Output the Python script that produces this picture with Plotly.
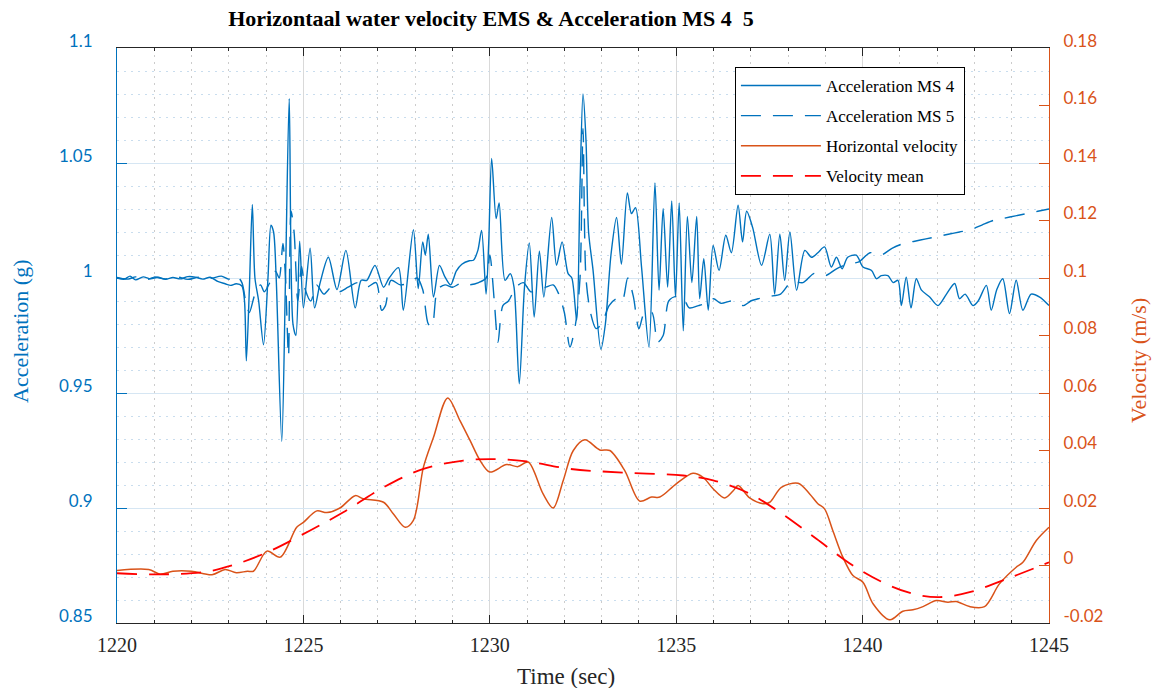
import plotly.graph_objects as go

# ---------------- data ----------------
t_ms4 = [1220.0, 1220.2, 1220.35, 1220.5, 1220.7, 1220.9, 1221.1, 1221.3, 1221.5, 1221.7,
         1221.9, 1222.1, 1222.3, 1222.5, 1222.7, 1222.9, 1223.05, 1223.2, 1223.35, 1223.42,
         1223.47, 1223.55, 1223.63, 1223.7, 1223.8, 1223.93, 1224.05, 1224.13, 1224.2, 1224.27,
         1224.42, 1224.52, 1224.62, 1224.72, 1224.8, 1224.9, 1225.0, 1225.18, 1225.3, 1225.45,
         1225.67, 1225.9, 1226.14, 1226.39, 1226.55, 1226.7, 1226.92, 1227.15, 1227.3, 1227.55,
         1227.68, 1227.95, 1228.08, 1228.2, 1228.27, 1228.35, 1228.49, 1228.65, 1228.8, 1228.95,
         1229.1, 1229.25, 1229.45, 1229.56, 1229.68, 1229.78, 1229.9, 1229.97, 1230.05, 1230.17,
         1230.25, 1230.41, 1230.55, 1230.65, 1230.79, 1230.93, 1231.06, 1231.19, 1231.33, 1231.45,
         1231.66, 1231.79, 1231.94, 1232.1, 1232.2, 1232.33, 1232.42, 1232.5, 1232.58, 1232.65,
         1232.77, 1232.98, 1233.1, 1233.25, 1233.4, 1233.53, 1233.69, 1233.8, 1233.91, 1234.07,
         1234.27, 1234.43, 1234.54, 1234.65, 1234.77, 1234.88, 1234.98, 1235.08, 1235.19, 1235.3,
         1235.42, 1235.55, 1235.63, 1235.74, 1235.86, 1235.99, 1236.15, 1236.33, 1236.48, 1236.66,
         1236.78, 1236.89, 1237.05, 1237.29, 1237.51, 1237.64, 1237.78, 1237.91, 1238.05, 1238.23,
         1238.45, 1238.63, 1238.8, 1238.98, 1239.16, 1239.3, 1239.45, 1239.6, 1239.83, 1240.01,
         1240.24, 1240.37, 1240.5, 1240.68, 1240.82, 1240.95, 1241.04, 1241.17, 1241.3, 1241.44,
         1241.58, 1241.8, 1242.02, 1242.25, 1242.47, 1242.6, 1242.75, 1242.96, 1243.1, 1243.32,
         1243.45, 1243.6, 1243.76, 1243.94, 1244.12, 1244.3, 1244.52, 1244.75, 1245.0]
a_ms4 = [1.000, 0.9995, 1.0008, 0.9992, 1.0005, 0.9997, 1.0003, 0.9994, 1.0002, 0.9996,
         1.0006, 1.0004, 0.9995, 1.0003, 0.9985, 0.9975, 0.9968, 0.9975, 0.9965, 0.990,
         0.964, 0.995, 1.032, 1.000, 0.990, 0.971, 1.000, 1.023, 1.020, 1.000,
         0.929, 1.000, 1.078, 0.980, 0.975, 1.016, 0.987, 1.013, 0.987, 0.998,
         1.009, 0.995, 1.012, 0.987, 0.999, 0.999, 1.0055, 0.996, 1.000, 1.0045,
         0.986, 1.021, 0.9954, 1.0157, 1.010, 1.019, 0.9917, 1.0055, 1.0004, 0.997,
         1.003, 1.006, 1.0075, 1.0077, 1.012, 1.0207, 0.993, 1.015, 1.052, 1.0258,
         1.0326, 0.999, 1.0019, 0.996, 0.954, 0.996, 1.0152, 0.983, 1.0117, 0.9917,
         1.0263, 1.0055, 1.0157, 1.0019, 1.000, 0.9816, 1.040, 1.080, 1.060, 1.020,
         1.0033, 0.969, 0.980, 1.010, 1.0263, 1.006, 1.037, 1.028, 1.0306, 1.0048,
         0.970, 1.0413, 0.9947, 1.0302, 0.996, 1.0335, 0.9917, 1.0326, 0.977, 1.0268,
         0.998, 1.0268, 0.991, 1.0084, 0.986, 1.0142, 1.0033, 1.0186, 1.011, 1.0316,
         1.0157, 1.029, 1.022, 1.0055, 1.019, 0.993, 1.019, 0.999, 1.020, 0.9947,
         1.012, 1.009, 1.011, 1.0135, 1.0048, 1.009, 1.004, 1.009, 1.0099, 1.0048,
         1.0033, 0.9997, 1.001, 1.001, 0.998, 0.999, 0.988, 1.0004, 0.987, 0.9997,
         0.9947, 0.9917, 0.988, 0.993, 0.9976, 0.991, 0.993, 0.988, 0.990, 0.9968,
         0.986, 0.995, 0.9997, 0.9845, 0.999, 0.986, 0.993, 0.9917, 0.988]

t_ms5 = [1220.0, 1220.3, 1220.5, 1220.8, 1221.0, 1221.3, 1221.6, 1221.9, 1222.2, 1222.5,
         1222.8, 1223.0, 1223.2, 1223.35, 1223.45, 1223.55, 1223.7, 1223.85, 1223.95, 1224.1,
         1224.25, 1224.35, 1224.45, 1224.52, 1224.6, 1224.67, 1224.75, 1224.85, 1224.95, 1225.05,
         1225.2, 1225.35, 1225.55, 1225.75, 1225.95, 1226.2, 1226.45, 1226.7, 1226.95, 1227.1,
         1227.2, 1227.35, 1227.6, 1227.85, 1228.05, 1228.2, 1228.35, 1228.45, 1228.6, 1228.8,
         1229.0, 1229.2, 1229.45, 1229.7, 1229.9, 1230.0, 1230.12, 1230.22, 1230.35, 1230.5,
         1230.7, 1230.9, 1231.1, 1231.3, 1231.5, 1231.7, 1231.85, 1232.0, 1232.15, 1232.3,
         1232.42, 1232.5, 1232.58, 1232.7, 1232.85, 1233.0, 1233.2, 1233.4, 1233.55, 1233.7,
         1233.85, 1234.0, 1234.15, 1234.35, 1234.5, 1234.65, 1234.8, 1235.0, 1235.2, 1235.35,
         1235.6, 1235.8, 1236.0, 1236.2, 1236.5, 1236.8, 1237.0, 1237.2, 1237.5, 1237.8,
         1238.1, 1238.4, 1238.7, 1239.0, 1239.3, 1239.6, 1239.9, 1240.2, 1240.5, 1240.8,
         1241.1, 1241.4, 1241.7, 1242.0, 1242.3, 1242.6, 1242.9, 1243.2, 1243.5, 1243.8,
         1244.1, 1244.4, 1244.7, 1245.0]
a_ms5 = [1.0003, 0.9995, 1.0005, 0.9993, 1.0004, 0.9996, 1.0005, 0.9994, 1.0004, 0.9998,
         1.0008, 0.9995, 1.0010, 0.998, 0.990, 0.985, 0.993, 0.997, 0.994, 0.998,
         1.003, 1.000, 1.015, 1.000, 0.966, 1.029, 1.020, 0.990, 1.005, 0.995,
         0.990, 0.997, 0.993, 0.996, 0.994, 0.996, 0.998, 0.996, 0.998, 0.986,
         0.988, 0.999, 0.997, 0.998, 1.000, 0.995, 0.980, 0.979, 0.995, 0.997,
         0.996, 0.9975, 0.997, 0.998, 1.000, 1.010, 0.990, 0.972, 0.988, 0.990,
         0.996, 0.998, 0.994, 0.995, 0.996, 0.997, 0.993, 0.985, 0.970, 0.980,
         1.000, 1.065, 1.000, 0.985, 0.978, 0.980, 0.988, 0.991, 0.990, 1.000,
         0.992, 0.978, 0.985, 0.985, 0.972, 0.975, 0.990, 0.992, 0.991, 0.987,
         0.988, 0.989, 0.991, 0.989, 0.990, 0.988, 0.990, 0.991, 0.992, 0.993,
         0.9985, 0.998, 1.002, 1.001, 1.004, 1.006, 1.007, 1.011, 1.010, 1.013,
         1.015, 1.016, 1.017, 1.018, 1.019, 1.020, 1.021, 1.023, 1.025, 1.026,
         1.027, 1.028, 1.029, 1.030]

t_vel = [1220.0, 1220.85, 1221.16, 1221.5, 1222.0, 1222.55, 1222.9, 1223.2, 1223.5, 1223.66,
         1224.02, 1224.38, 1224.82, 1225.0, 1225.36, 1225.63, 1225.98, 1226.39, 1226.6, 1227.15,
         1227.41, 1227.73, 1227.95, 1228.22, 1228.49, 1228.87, 1229.2, 1229.47, 1229.74, 1230.0,
         1230.45, 1230.76, 1231.03, 1231.43, 1231.7, 1231.97, 1232.24, 1232.55, 1232.95, 1233.22,
         1233.62, 1234.02, 1234.34, 1234.56, 1235.0, 1235.45, 1235.72, 1235.99, 1236.3, 1236.53,
         1236.66, 1236.97, 1237.33, 1237.51, 1237.82, 1238.27, 1238.58, 1238.8, 1238.98, 1239.2,
         1239.47, 1239.74, 1240.01, 1240.28, 1240.73, 1241.08, 1241.35, 1241.62, 1241.98, 1242.29,
         1242.51, 1242.87, 1243.27, 1243.67, 1244.12, 1244.3, 1244.66, 1245.0]
v_vel = [-0.0017, -0.0014, -0.0030, -0.0020, -0.0020, -0.0032, -0.0014, -0.0025, -0.0020, -0.0020,
         0.0050, 0.0029, 0.0133, 0.0150, 0.0190, 0.0184, 0.0200, 0.0243, 0.0232, 0.0220,
         0.0180, 0.0133, 0.0157, 0.0342, 0.0446, 0.0583, 0.0504, 0.0435, 0.0365, 0.0325,
         0.0351, 0.0344, 0.0360, 0.0249, 0.0200, 0.0296, 0.0400, 0.0437, 0.0402, 0.0400,
         0.0330, 0.0224, 0.0238, 0.0238, 0.0284, 0.0321, 0.0307, 0.0267, 0.0235, 0.0260,
         0.0278, 0.0235, 0.0215, 0.0220, 0.0272, 0.0286, 0.0249, 0.0215, 0.0197, 0.0122,
         0.0029, -0.0035, -0.0058, -0.0133, -0.0189, -0.0159, -0.0154, -0.0143, -0.0122, -0.0128,
         -0.0125, -0.0143, -0.0143, -0.0064, -0.0006, 0.0011, 0.0087, 0.0133]

t_mean = [1220.0, 1220.98, 1222.32, 1223.13, 1224.1, 1225.18, 1226.07, 1227.15, 1228.22, 1229.29,
          1230.18, 1230.99, 1232.15, 1233.58, 1235.19, 1235.99, 1236.89, 1237.78, 1238.76, 1239.74,
          1240.73, 1241.44, 1242.07, 1242.87, 1243.76, 1245.0]
v_mean = [-0.0027, -0.0031, -0.0023, 0.0002, 0.0050, 0.0122, 0.0185, 0.0272, 0.0336, 0.0365,
          0.0370, 0.0362, 0.0336, 0.0323, 0.0313, 0.0296, 0.0255, 0.0185, 0.0093, 0.0000,
          -0.0070, -0.0101, -0.0110, -0.0093, -0.0052, 0.0011]

y2_tickvals = [-0.02, 0, 0.02, 0.04, 0.06, 0.08, 0.10, 0.12, 0.14, 0.16, 0.18]
y2_ticktext = ["-0.02", "0", "0.02", "0.04", "0.06", "0.08", "0.1", "0.12", "0.14", "0.16", "0.18"]

# ---------------- styling ----------------
BLUE = "#0072BD"
ORANGE = "#D95319"
RED = "#FF0000"
SERIF = "Liberation Serif"
SANS = "Lato"

# plot-area geometry (pixels) used to place free text
PL, PR, PT, PB = 117, 1049, 48, 623
PW, PH = PR - PL, PB - PT

fig = go.Figure()
fig.add_trace(go.Scatter(x=t_ms4, y=a_ms4, name="Acceleration MS 4", mode="lines",
                         line=dict(color=BLUE, width=1.4, shape="spline", smoothing=0.8),
                         legendgroup="a", yaxis="y"))
fig.add_trace(go.Scatter(x=t_ms5, y=a_ms5, name="Acceleration MS 5", mode="lines",
                         line=dict(color=BLUE, width=1.4, dash="20px,12px", shape="spline", smoothing=0.8),
                         legendgroup="b", yaxis="y"))
fig.add_trace(go.Scatter(x=t_vel, y=v_vel, name="Horizontal velocity", mode="lines",
                         line=dict(color=ORANGE, width=1.5, shape="spline", smoothing=0.9),
                         legendgroup="c", yaxis="y2"))
fig.add_trace(go.Scatter(x=t_mean, y=v_mean, name="Velocity mean", mode="lines",
                         line=dict(color=RED, width=1.8, dash="20px,12px", shape="spline", smoothing=1),
                         legendgroup="d", yaxis="y2"))

fig.update_layout(
    width=1154, height=688,
    margin=dict(l=PL, r=1154 - PR, t=PT, b=688 - PB, autoexpand=False),
    paper_bgcolor="white", plot_bgcolor="white",
    title=dict(text="<b>Horizontaal water velocity EMS &amp; Acceleration MS 4  5</b>",
               x=491 / 1154, xanchor="center", xref="container",
               y=1 - 18 / 688, yanchor="middle", yref="container",
               font=dict(family=SERIF, size=22, color="black")),
    showlegend=True,
    legend=dict(x=0.663, y=(PB - 67) / PH, xanchor="left", yanchor="top",
                bgcolor="white", bordercolor="black", borderwidth=1,
                font=dict(family=SERIF, size=17, color="black"),
                itemwidth=80, tracegroupgap=5, traceorder="grouped"),
    xaxis=dict(range=[1220, 1245], dtick=5, tick0=1220, automargin=False,
               showline=True, linecolor="#262626", linewidth=1, mirror="ticks",
               ticks="inside", ticklen=8, tickcolor="#262626",
               showgrid=True, gridcolor="#d9d9d9", gridwidth=1,
               zeroline=False,
               tickfont=dict(family=SERIF, size=20, color="#262626"),
               ticklabelstandoff=4,
               minor=dict(dtick=1, showgrid=True, gridcolor="#cccccc", griddash="2px,5px",
                          ticks="inside", ticklen=3, tickcolor="#262626")),
    yaxis=dict(range=[0.85, 1.1], dtick=0.05, tick0=0.85, side="left", automargin=False,
               showline=True, linecolor=BLUE, linewidth=1.2,
               ticks="inside", ticklen=10, tickcolor=BLUE,
               showgrid=True, gridcolor="#d6e6f3", gridwidth=1, zeroline=False,
               tickfont=dict(family=SANS, size=17, color=BLUE),
               ticklabelstandoff=20, ticklabelshift=-7,
               minor=dict(dtick=0.01, showgrid=True, gridcolor="#c9ddee", griddash="2px,5px")),
    yaxis2=dict(range=[-0.02, 0.18], overlaying="y", side="right", automargin=False,
                tickvals=y2_tickvals, ticktext=y2_ticktext,
                showline=True, linecolor=ORANGE, linewidth=1.2,
                ticks="inside", ticklen=10, tickcolor=ORANGE,
                showgrid=False, zeroline=False,
                tickfont=dict(family=SANS, size=17, color=ORANGE),
                ticklabelstandoff=10, ticklabelshift=-7),
    annotations=[
        dict(text="Acceleration (g)", xref="paper", yref="paper",
             x=(20 - PL) / PW, y=(PB - 331) / PH, xanchor="center", yanchor="middle",
             textangle=-90, showarrow=False, font=dict(family=SERIF, size=22, color=BLUE)),
        dict(text="Velocity (m/s)", xref="paper", yref="paper",
             x=(1138 - PL) / PW, y=(PB - 361) / PH, xanchor="center", yanchor="middle",
             textangle=-90, showarrow=False, font=dict(family=SERIF, size=22, color=ORANGE)),
        dict(text="Time (sec)", xref="paper", yref="paper",
             x=(566 - PL) / PW, y=(PB - 676) / PH, xanchor="center", yanchor="middle",
             showarrow=False, font=dict(family=SERIF, size=23, color="#262626")),
    ],
)

fig.write_html("out.html")
